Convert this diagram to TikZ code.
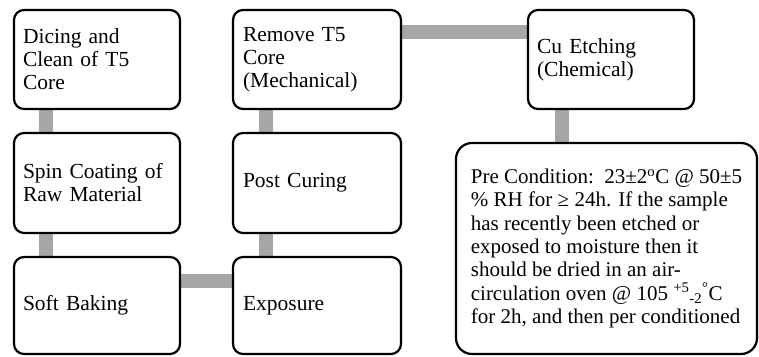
\documentclass[tikz,border=0pt]{standalone}
\usepackage{fontspec}
\setmainfont{Liberation Serif}
\usetikzlibrary{calc,backgrounds}
\begin{document}
\begin{tikzpicture}[x=1pt,y=-1pt,
  stepbox/.style={draw=black, line width=2.2pt, rounded corners=10pt, fill=white,
    minimum width=166pt, minimum height=99pt, inner xsep=9pt, inner ysep=0pt,
    text width=148pt, align=left,
    font=\fontsize{21.5}{23}\selectfont},
  conn/.style={draw={rgb,255:red,166;green,166;blue,166}, line width=14pt}]
\useasboundingbox (0,0) rectangle (759,356);
\node[stepbox] (dice) at (97,59.5) {Dicing and\\Clean of T5\\Core};
\node[stepbox, minimum width=168pt] (remove) at (317,59.5) {Remove T5\\Core\\(Mechanical)};
\node[stepbox] (cu) at (611,59.5) {Cu Etching\\(Chemical)};
\node[stepbox, minimum height=100pt] (spin) at (97,183) {Spin Coating of\\Raw Material};
\node[stepbox, minimum width=168pt, minimum height=100pt] (post) at (317,183) {Post Curing};
\node[stepbox, minimum height=97pt] (soft) at (97,305.5) {Soft Baking};
\node[stepbox, minimum width=168pt, minimum height=97pt] (expo) at (317,305.5) {Exposure};
\node[stepbox, rounded corners=16pt, minimum width=301pt, minimum height=211pt,
  inner xsep=12pt, text width=, font=\fontsize{21}{23.3}\selectfont] (pre) at (606.5,248.5)
  {Pre Condition: \,23±2\textsuperscript{o}C @ 50±5\\
   \% RH for ≥ 24h. If the sample\\
   has recently been etched or\\
   exposed to moisture then it\\
   should be dried in an air-\\
   circulation oven @ 105 \textsuperscript{+5}\textsubscript{-2}\textsuperscript{°}C\\
   for 2h, and then per conditioned};
\begin{scope}[on background layer]
\draw[conn] ($(dice.south west)+(33.5,0)$) -- ($(spin.north west)+(33.5,0)$);
\draw[conn] ($(spin.south west)+(33.5,0)$) -- ($(soft.north west)+(33.5,0)$);
\draw[conn] ($(soft.north east)+(0,25.5)$) -- ($(expo.north west)+(0,25.5)$);
\draw[conn] ($(expo.north west)+(34.5,0)$) -- ($(post.south west)+(34.5,0)$);
\draw[conn] ($(post.north west)+(34.5,0)$) -- ($(remove.south west)+(34.5,0)$);
\draw[conn] ($(remove.north east)+(0,23.5)$) -- ($(cu.north west)+(0,23.5)$);
\draw[conn] ($(cu.south west)+(35,0)$) -- ($(pre.north west)+(107,0)$);
\end{scope}
\end{tikzpicture}
\end{document}
